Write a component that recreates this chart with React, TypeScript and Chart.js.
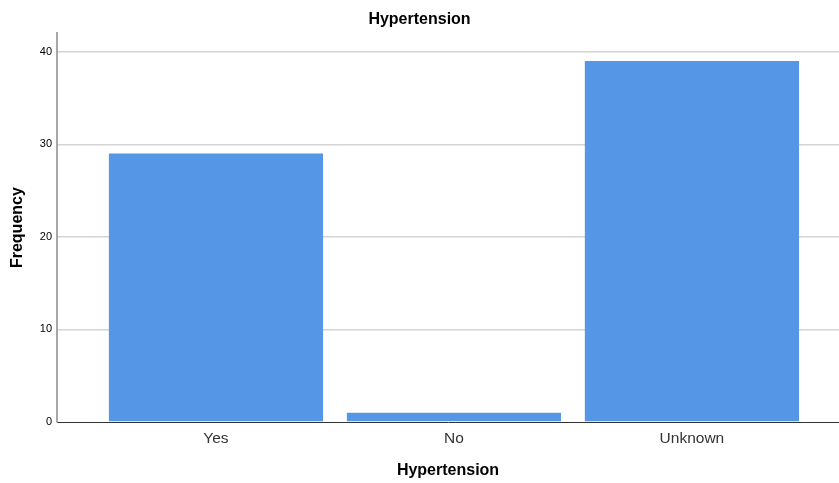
import React, { useEffect, useRef } from "react";
import { Chart, registerables } from "chart.js";

Chart.register(...registerables);

const categories = ["Yes", "No", "Unknown"];
const frequencies = [29, 1, 39];
const yTicksMax = 42;

const FONT = "Arial, 'Liberation Sans', sans-serif";

export default function App() {
  const ref = useRef<HTMLCanvasElement | null>(null);

  useEffect(() => {
    if (!ref.current) return;
    const chart = new Chart(ref.current, {
      type: "bar",
      data: {
        datasets: [
          {
            label: "Frequency",
            data: frequencies.map((v, i) => ({ x: i, y: v })),
            backgroundColor: "#5596e6",
            borderWidth: 0,
            barPercentage: 0.9,
            categoryPercentage: 1,
          },
        ],
      },
      options: {
        animation: false,
        responsive: true,
        maintainAspectRatio: false,
        layout: { padding: { left: 0, right: 0, top: 0, bottom: 0 } },
        plugins: {
          legend: { display: false },
          tooltip: { enabled: false },
          title: {
            display: true,
            text: "Hypertension",
            color: "#000",
            font: { family: FONT, size: 16, weight: "bold" },
            padding: { top: 10, bottom: 4 },
          },
        },
        scales: {
          x: {
            type: "linear",
            offset: false,
            min: -0.668,
            max: 2.618,
            afterBuildTicks: (scale: any) => {
              scale.ticks = scale.ticks.filter(
                (t: any) => Number.isInteger(t.value) && t.value >= 0 && t.value < categories.length
              );
            },
            afterFit: (scale: any) => {
              scale.height = 61;
            },
            ticks: {
              stepSize: 1,
              autoSkip: false,
              maxRotation: 0,
              padding: 7,
              color: "#333",
              font: { family: FONT, size: 15.5 },
              callback: (v: any) => categories[v as number] ?? "",
            },
            grid: { display: false, drawTicks: false, offset: false },
            border: { display: true, color: "#333", width: 1 },
            title: {
              display: true,
              text: "Hypertension",
              color: "#000",
              font: { family: FONT, size: 16, weight: "bold" },
              padding: { top: 4, bottom: 3 },
            },
          },
          y: {
            min: 0,
            max: yTicksMax,
            afterFit: (scale: any) => {
              scale.width = 57;
            },
            ticks: {
              stepSize: 10,
              padding: 5,
              color: "#000",
              font: { family: FONT, size: 11 },
              callback: (v: any) => ((v as number) % 10 === 0 ? String(v) : ""),
            },
            grid: {
              drawTicks: false,
              color: (ctx: any) =>
                ctx.tick && (ctx.tick.value === 0 || ctx.tick.value % 10 !== 0)
                  ? "rgba(0,0,0,0)"
                  : "#d4d4d4",
              lineWidth: 1.5,
            },
            border: { display: true, color: "#a6a6a6", width: 2 },
            title: {
              display: true,
              text: "Frequency",
              color: "#000",
              font: { family: FONT, size: 16, weight: "bold" },
              padding: { top: 8, bottom: 4 },
            },
          },
        },
      },
    } as any);
    return () => chart.destroy();
  }, []);

  return (
    <div style={{ position: "fixed", left: 0, top: 0, width: 839, height: 483, background: "#fff" }}>
      <canvas ref={ref} />
    </div>
  );
}
